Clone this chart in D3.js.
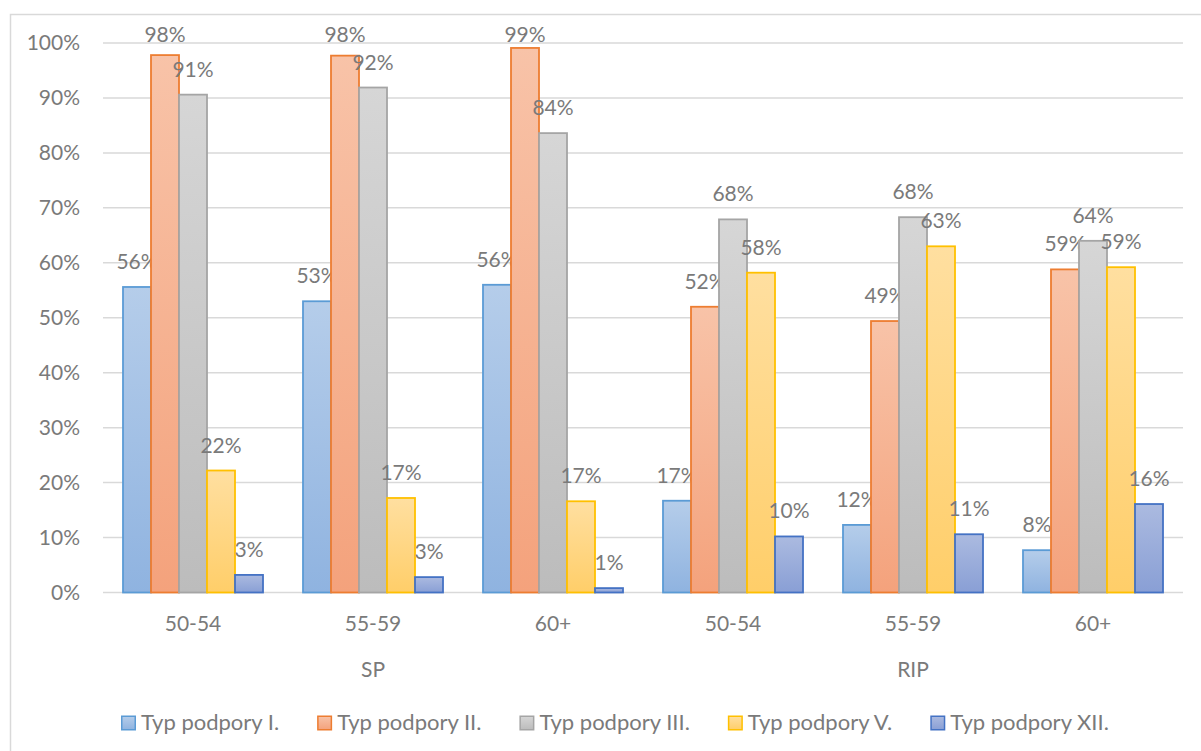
<!DOCTYPE html>
<html>
<head>
<meta charset="utf-8">
<script src="https://cdn.jsdelivr.net/npm/d3@7"></script>
<style>
  html, body { margin: 0; padding: 0; background: #fff; }
  svg { display: block; }
  text { font-family: Lato, "Open Sans", sans-serif; fill: #7a7a7a; }
</style>
</head>
<body>
<svg id="chart" width="1201" height="751"></svg>
<script>
// ---- data ----
const groups = ["SP", "RIP"];
const ages = ["50-54", "55-59", "60+"];
const seriesNames = ["Typ podpory I.", "Typ podpory II.", "Typ podpory III.", "Typ podpory V.", "Typ podpory XII."];
const typI   = [55.6, 53.0, 56.0, 16.7, 12.3, 7.7];
const typII  = [97.8, 97.7, 99.1, 52.0, 49.4, 58.8];
const typIII = [90.6, 91.9, 83.6, 67.9, 68.3, 64.0];
const typV   = [22.2, 17.2, 16.6, 58.2, 63.0, 59.2];
const typXII = [3.2, 2.8, 0.8, 10.2, 10.6, 16.1];
const yTicks = [0, 10, 20, 30, 40, 50, 60, 70, 80, 90, 100];

// ---- styles ----
const strokeColors = ["#5b9bd5", "#ed7d31", "#a5a5a5", "#ffc000", "#4472c4"];
const gradTop = ["#b5cdea", "#f8c3a8", "#d6d6d6", "#ffdfa0", "#abbae0"];
const gradBot = ["#8fb3e0", "#f4a27c", "#bcbcbc", "#ffce69", "#899fd5"];

const values = [typI, typII, typIII, typV, typXII];
const categories = [];
groups.forEach(g => ages.forEach(a => categories.push(g + "|" + a)));

const svg = d3.select("#chart");

// gradients
const defs = svg.append("defs");
seriesNames.forEach((s, i) => {
  const lg = defs.append("linearGradient").attr("id", "g" + i)
    .attr("x1", 0).attr("y1", 0).attr("x2", 0).attr("y2", 1);
  lg.append("stop").attr("offset", "0%").attr("stop-color", gradTop[i]);
  lg.append("stop").attr("offset", "100%").attr("stop-color", gradBot[i]);
});

// chart border
svg.append("rect").attr("x", 10.5).attr("y", 14.5).attr("width", 1300).attr("height", 900)
  .attr("fill", "none").attr("stroke", "#d9d9d9").attr("stroke-width", 1.5);

const plotLeft = 103, plotRight = 1183, plotTop = 43, plotBottom = 592.5;

const x0 = d3.scaleBand().domain(categories).range([plotLeft, plotRight]).padding(0);
const x1 = d3.scaleBand().domain(seriesNames).range([20, x0.bandwidth() - 20]).padding(0);
const y = d3.scaleLinear().domain([0, 100]).range([plotBottom, plotTop]);

// gridlines
svg.append("g").selectAll("line").data(yTicks).join("line")
  .attr("x1", plotLeft).attr("x2", plotRight)
  .attr("y1", d => y(d)).attr("y2", d => y(d))
  .attr("stroke", "#d9d9d9").attr("stroke-width", 1.5);

// y axis labels
const yAxis = d3.axisLeft(y).tickValues(yTicks).tickFormat(d => d + "%").tickSize(0).tickPadding(0);
const yg = svg.append("g").attr("transform", "translate(80,0)").call(yAxis);
yg.select(".domain").remove();
yg.selectAll("text").attr("font-size", 21).attr("fill", "#7a7a7a")
  .style("font-family", "Lato, 'Open Sans', sans-serif");

// bars
const seriesG = svg.append("g").selectAll("g").data(seriesNames).join("g");
seriesG.each(function(s, i) {
  const g = d3.select(this);
  const vals = values[i];
  g.selectAll("rect").data(vals).join("rect")
    .attr("x", (d, j) => x0(categories[j]) + x1(s))
    .attr("width", x1.bandwidth())
    .attr("y", d => y(d))
    .attr("height", d => y(0) - y(d))
    .attr("fill", "url(#g" + i + ")")
    .attr("stroke", strokeColors[i])
    .attr("stroke-width", 1.8);
});

// data labels
seriesG.each(function(s, i) {
  const g = d3.select(this);
  const vals = values[i];
  g.selectAll("text").data(vals).join("text")
    .attr("x", (d, j) => x0(categories[j]) + x1(s) + x1.bandwidth() / 2)
    .attr("y", d => Math.max(y(d) - 18, 42))
    .attr("text-anchor", "middle")
    .attr("font-size", 21)
    .text(d => Math.round(d) + "%");
});

// category labels
const catAxis = svg.append("g");
catAxis.selectAll("text").data(categories).join("text")
  .attr("x", d => x0(d) + x0.bandwidth() / 2)
  .attr("y", 631)
  .attr("text-anchor", "middle")
  .attr("font-size", 21)
  .text(d => d.split("|")[1]);

// group labels
svg.append("g").selectAll("text").data(groups).join("text")
  .attr("x", g => {
    const cats = categories.filter(c => c.startsWith(g + "|"));
    const a = x0(cats[0]), b = x0(cats[cats.length - 1]) + x0.bandwidth();
    return (a + b) / 2;
  })
  .attr("y", 677)
  .attr("text-anchor", "middle")
  .attr("font-size", 21)
  .text(d => d);

// legend
const legend = svg.append("g");
let lx = 121;
seriesNames.forEach((s, i) => {
  legend.append("rect").attr("x", lx + 0.75).attr("y", 716.25).attr("width", 13.5).attr("height", 13.5)
    .attr("fill", "url(#g" + i + ")").attr("stroke", strokeColors[i]).attr("stroke-width", 1.5);
  const t = legend.append("text").attr("x", lx + 20).attr("y", 729.5).attr("font-size", 22).text(s);
  const w = t.node().getComputedTextLength();
  lx = lx + 20 + w + 38;
});
</script>
</body>
</html>
